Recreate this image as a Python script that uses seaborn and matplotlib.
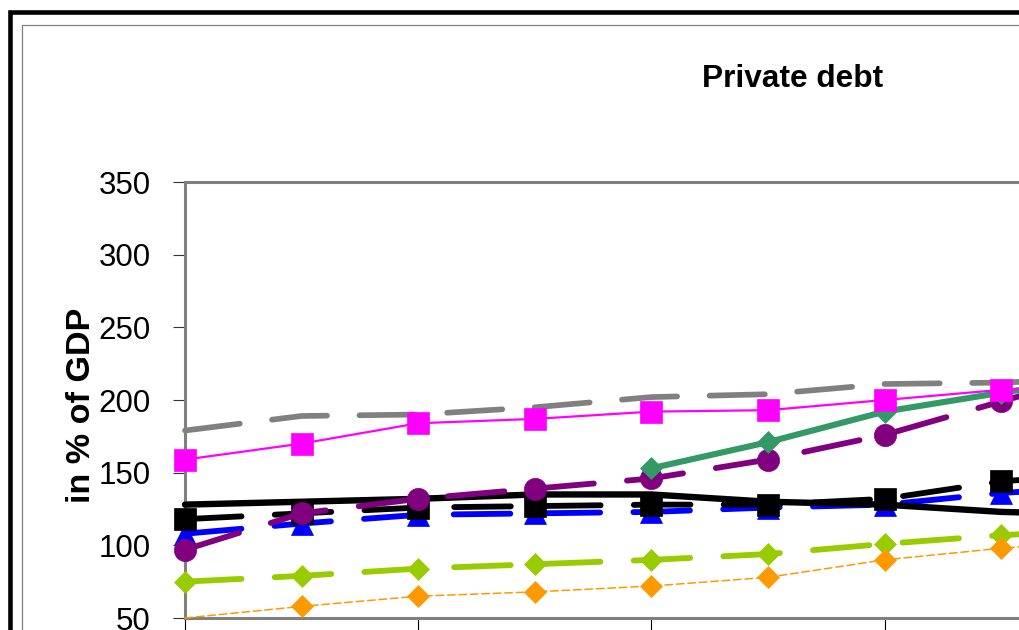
import numpy as np
import pandas as pd
import matplotlib
matplotlib.use("Agg")
import matplotlib.pyplot as plt
from matplotlib.patches import Rectangle
import seaborn as sns

# ---------------- data ----------------
years = [2000, 2001, 2002, 2003, 2004, 2005, 2006, 2007, 2008]
s_gray = [179, 189, 190, 195, 202, 204, 211, 212, 215]
s_magenta = [159, 170, 184, 187, 192, 193, 200, 207, 211]
s_green = [np.nan, np.nan, np.nan, np.nan, 153, 171, 192, 205, 217]
s_purple = [97, 122, 132, 139, 146, 159, 176, 199, 222]
s_black_solid = [128, 130, 132, 135, 135, 130, 128, 123, 121]
s_black_dashed = [118, 122, 126, 127, 128, 128, 132, 144, 150]
s_blue = [108, 115, 121, 122, 123, 126, 128, 136, 141]
s_yellowgreen = [75, 79, 84, 87, 90, 94, 101, 107, 111]
s_orange = [50, 58, 65, 68, 72, 78, 90, 98, 104]
yticks = [50, 100, 150, 200, 250, 300, 350]
title = "Private debt"
ylabel = "in % of GDP"

sns.set_style("white")
FAM = ["Liberation Sans", "DejaVu Sans"]
plt.rcParams["font.family"] = FAM
plt.rcParams["text.color"] = "black"

W, H = 1019, 630
fig = plt.figure(figsize=(W / 100, H / 100), dpi=100)
fig.patch.set_facecolor("white")

# outer frames (extend beyond the visible canvas)
fig.patches.append(Rectangle((9.5 / W, -0.3), 1.6, (1 - 12 / H) + 0.3, fill=False,
                             edgecolor="black", linewidth=3.3, transform=fig.transFigure, zorder=0))
fig.patches.append(Rectangle((21.5 / W, -0.3), 1.6, (1 - 24.5 / H) + 0.3, fill=False,
                             edgecolor="#808080", linewidth=0.9, transform=fig.transFigure, zorder=0))

x = np.arange(len(years))
px_per_cat = 116.6
ax_left = 185 / W
ax_bottom = (H - 618) / H
ax_height = (618 - 182) / H
ax_width = (len(years) - 1) * px_per_cat / W
ax = fig.add_axes([ax_left, ax_bottom, ax_width, ax_height])
ax.set_facecolor("white")

df = pd.DataFrame({"x": x, "gray": s_gray, "magenta": s_magenta, "green": s_green,
                   "purple": s_purple, "black_solid": s_black_solid,
                   "black_dashed": s_black_dashed, "blue": s_blue,
                   "yellowgreen": s_yellowgreen, "orange": s_orange})

long_dash = (0, (9.7, 5.7))

series = [
    ("gray", dict(color="#808080", lw=4.1, ls=long_dash, marker=None)),
    ("yellowgreen", dict(color="#99CC00", lw=4.2, ls=long_dash, marker="D", ms=11.5)),
    ("orange", dict(color="#FF9900", lw=1.1, ls=(0, (5, 2.5)), marker="D", ms=11.5,
                    markevery=list(range(1, len(years))))),
    ("blue", dict(color="#0000FF", lw=4.2, ls=long_dash, marker="^", ms=15.5)),
    ("black_dashed", dict(color="black", lw=4.2, ls=long_dash, marker="s", ms=15.5)),
    ("black_solid", dict(color="black", lw=4.6, ls="-", marker=None)),
    ("purple", dict(color="#800080", lw=4.2, ls=long_dash, marker="o", ms=16)),
    ("green", dict(color="#339966", lw=4.4, ls="-", marker="D", ms=11.5)),
    ("magenta", dict(color="#FF00FF", lw=1.6, ls="-", marker="s", ms=15.5)),
]

for i, (name, st) in enumerate(series):
    sub = df[["x", name]].dropna()
    kw = dict(linestyle=st["ls"], dash_capstyle="round", clip_on=False, zorder=3 + i)
    if st.get("marker"):
        kw.update(marker=st["marker"], markersize=st["ms"], markeredgecolor=st["color"],
                  markeredgewidth=0.5, markerfacecolor=st["color"])
        if "markevery" in st:
            kw["markevery"] = st["markevery"]
    sns.lineplot(data=sub, x="x", y=name, ax=ax, color=st["color"], linewidth=st["lw"],
                 legend=False, **kw)

ax.set_ylim(50, 350)
ax.set_xlim(0, len(years) - 1)
ax.set_yticks(yticks)
ax.set_yticklabels([str(v) for v in yticks], fontsize=22.5, family=FAM, color="black")
ax.set_xticks(x[::2])
ax.set_xticklabels([])
ax.tick_params(axis="y", direction="out", length=8.6, width=0.8, color="#333333", pad=16, left=True)
ax.tick_params(axis="x", direction="out", length=12, width=0.8, color="black", bottom=True)
ax.set_xlabel("")
ax.set_ylabel("")
for sp in ax.spines.values():
    sp.set_visible(True)
    sp.set_color("#808080")
    sp.set_linewidth(2.2)
    sp.set_zorder(2)

fig.text(793 / W, 1 - 87 / H, title, ha="center", va="baseline", fontsize=22.8,
         fontweight="bold", family=FAM, color="black")
fig.text(82 / W, 1 - 405 / H, ylabel, ha="center", va="center", rotation=90,
         fontsize=24.6, fontweight="bold", family=FAM, color="black")

fig.savefig("out.png", dpi=100)
